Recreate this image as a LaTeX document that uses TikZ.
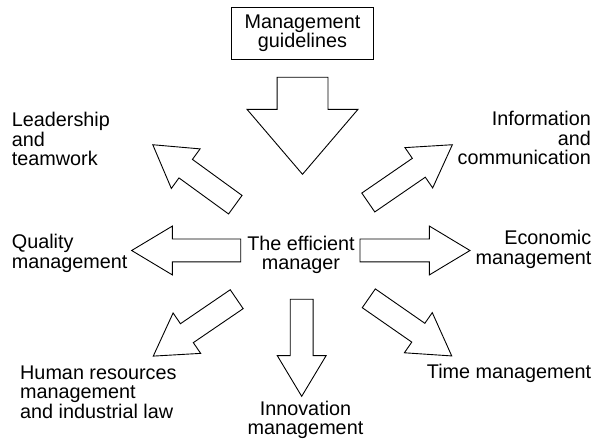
\documentclass[tikz,border=0pt]{standalone}
\usepackage{fontspec}
\setmainfont{Liberation Sans}
\usetikzlibrary{shapes.arrows}

\tikzset{
  topic/.style={font=\fontsize{19.8}{19.5}\selectfont, inner sep=0pt},
  fatarrow/.style={single arrow, draw=black, line width=0.9pt, inner xsep=0pt, inner ysep=11pt,
    minimum width=0pt, single arrow head extend=13pt, single arrow tip angle=62, anchor=tail, outer sep=0pt},
  bigarrow/.style={fatarrow, inner ysep=25pt, single arrow head extend=30pt, single arrow tip angle=81},
}

\begin{document}
\begin{tikzpicture}[x=1pt,y=1pt]
    \useasboundingbox (0,0) rectangle (595,439);

    % boxes and texts
    \node[draw, line width=0.9pt, topic, align=center, minimum width=141.6pt, minimum height=52pt] (guide) at (302.5,405.7) {Management\\guidelines};
    \node[topic, align=center, anchor=base] (manager) at (301,169) {The efficient\\manager};

    \node[topic, align=left, anchor=base west] (lead) at (11.7,273.3) {Leadership\\and\\teamwork};
    \node[topic, align=right, anchor=base east] (info) at (591,274) {Information\\and\\communication};
    \node[topic, align=left, anchor=base west] (qual) at (11.7,170.7) {Quality\\management};
    \node[topic, align=right, anchor=base east] (econ) at (591.5,174.7) {Economic\\management};
    \node[topic, align=left, anchor=base west] (hr) at (20,20.7) {Human resources\\management\\and industrial law};
    \node[topic, anchor=base west] (time) at (426.7,60) {Time management};
    \node[topic, align=center, anchor=base] (innov) at (305.5,4) {Innovation\\management};

    % arrows
    \node[bigarrow, rotate=-90, minimum height=97pt] (toparrow) at (302.5,361.7) {};
    \node[fatarrow, rotate=144, minimum height=102pt] (leadarrow) at (235.3,234.3) {};
    \node[fatarrow, rotate=34.5, minimum height=102pt] (infoarrow) at (368.3,236.5) {};
    \node[fatarrow, rotate=180, minimum height=109pt] (qualarrow) at (240.7,188.5) {};
    \node[fatarrow, rotate=0, minimum height=110pt] (econarrow) at (360,188.5) {};
    \node[fatarrow, rotate=214.3, minimum height=101pt] (hrarrow) at (236.7,139.8) {};
    \node[fatarrow, rotate=-34.8, minimum height=101pt] (timearrow) at (368.8,140.7) {};
    \node[fatarrow, rotate=-90, minimum height=97pt] (innovarrow) at (301.7,139.7) {};
\end{tikzpicture}
\end{document}
